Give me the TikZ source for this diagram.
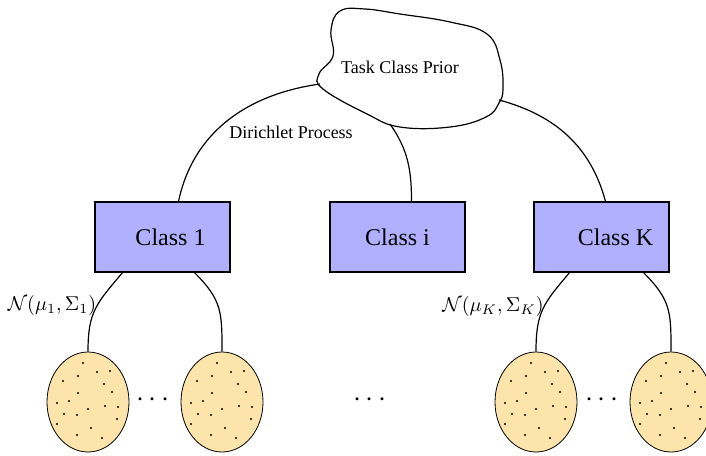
\documentclass[tikz,border=0pt]{standalone}
\usepackage{fontspec}
\setmainfont{Liberation Serif}
\usepackage{tikz}
\usetikzlibrary{shapes.geometric,calc}
\definecolor{classfill}{HTML}{B0B0FF}
\definecolor{blobfill}{HTML}{FCE4AA}

\begin{document}
\begin{tikzpicture}[
  x=0.5pt, y=-0.5pt,
  line width=0.6pt,
  classbox/.style={draw, fill=classfill, minimum width=67.5pt, minimum height=35pt, inner sep=0pt, font=\fontsize{12}{14}\selectfont},
  blob/.style={draw, line width=0.4pt, ellipse, fill=blobfill, minimum width=41pt, minimum height=50pt, inner sep=0pt},
  lbl/.style={font=\fontsize{9}{11}\selectfont},
  gap/.style={font=\fontsize{15}{17}\selectfont},
  link/.style={line width=0.6pt}
]
\useasboundingbox (0,0) rectangle (706,455);

% prior cloud
\draw[fill=white] plot[smooth cycle, tension=0.7] coordinates {
  (340,11) (365,9) (400,14) (450,22) (487,34) (500,60) (503,88) (499,103)
  (486,117) (450,127) (400,127) (367,114) (323,89) (319,74) (333,56) (331,30)};
\node[lbl] (prior) at (400,67) {Task Class Prior};
\coordinate (pl) at (320,84);
\coordinate (pi) at (390,124);
\coordinate (pk) at (499,100);

% classes
\node[classbox] (c1) at (162.5,237) {\hspace{8pt}Class 1};
\node[classbox] (ci) at (397.5,237) {Class i};
\node[classbox] (ck) at (601.5,237) {\hspace{14pt}Class K};

\draw[link] ([xshift=8pt]c1.north) to[out=78,in=188] (pl);
\draw[link] (pi) to[out=-55,in=90] ([xshift=7pt]ci.north);
\draw[link] (pk) to[out=-15,in=105] ([xshift=2pt]ck.north);
\node[lbl] (dp) at (291,132) {Dirichlet Process};

% task blobs
\node[blob] (e1) at (88,402) {};
\node[blob] (e2) at (222,402) {};
\node[blob] (e3) at (536,402) {};
\node[blob] (e4) at (671,402) {};
\foreach \e in {e1,e2,e3,e4}
  \foreach \dx/\dy in {-5/-39, 9/-30, 22/-31, -25/-21, -10/-26, 16/-18, 24/-10, -10/-9,
      -19/-1, -31/1, 0/7, 17/4, 30/5, -24/12, -11/13, 29/17, -31/22, 3/26, -11/33, 14/36}
    \fill ($(\e)+(\dx,\dy)$) circle (0.6pt);

\node[gap] (d1) at (153,400) {$\cdots$};
\node[gap] (d2) at (370,400) {$\cdots$};
\node[gap] (d3) at (602,400) {$\cdots$};

\draw[link] ([xshift=-20pt]c1.south) to[out=230,in=90,looseness=1.2] (e1.north);
\draw[link] ([xshift=16pt]c1.south) to[out=-45,in=90,looseness=1.2] (e2.north);
\draw[link] ([xshift=-16pt]ck.south) to[out=230,in=90,looseness=1.2] (e3.north);
\draw[link] ([xshift=21pt]ck.south) to[out=-45,in=90,looseness=1.2] (e4.north);

\node[font=\fontsize{10}{12}\selectfont] (n1) at (52,305) {$\mathcal{N}(\mu_1,\Sigma_1)$};
\node[font=\fontsize{10}{12}\selectfont] (nk) at (493,306) {$\mathcal{N}(\mu_K,\Sigma_K)$};
\end{tikzpicture}
\end{document}
